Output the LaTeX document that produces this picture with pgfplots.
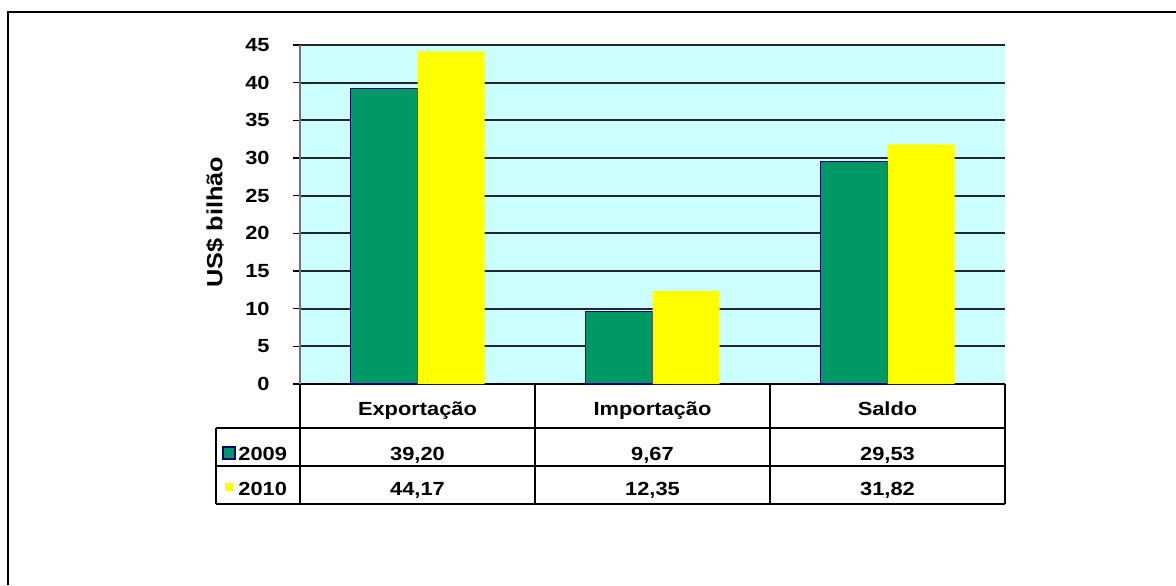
\documentclass[border=0pt]{standalone}
\usepackage{pgfplots}
\pgfplotsset{compat=1.18}
\usepackage{fontspec}
\setmainfont{Liberation Sans}[FakeStretch=1.15]
\definecolor{bg}{RGB}{204,255,255}
\definecolor{barg}{RGB}{0,153,102}
\definecolor{navyb}{RGB}{0,0,128}
\definecolor{bary}{RGB}{255,255,0}
\newcommand\cf{\bfseries\fontsize{9.5pt}{11pt}\selectfont}
\begin{document}
\begin{tikzpicture}[font=\cf]
\useasboundingbox (0,0) rectangle (588pt,292.5pt);
\draw[line width=1pt] (3.75pt,0) -- (3.75pt,286.25pt) -- (588pt,286.25pt);
\begin{axis}[
  at={(150pt,100.5pt)}, anchor=south west,
  scale only axis, width=352.5pt, height=169.5pt,
  xmin=-0.5, xmax=2.5, ymin=0, ymax=45,
  enlargelimits=false,
  axis x line*=bottom, axis y line*=left,
  x axis line style={black, line width=0.8pt},
  y axis line style={black!55, line width=0.8pt},
  axis background/.style={fill=bg},
  xtick={0,1,2},
  xticklabels={Exportação, Importação, Saldo},
  major x tick style={draw=none},
  xticklabel style={anchor=base, yshift=-15.75pt, font=\cf},
  ytick={0,5,...,45},
  ytick align=outside,
  major tick length=3.5pt,
  y tick style={black, line width=0.8pt},
  yticklabel style={anchor=east, inner sep=0pt, xshift=-11.5pt, font=\cf},
  /pgf/number format/assume math mode=true,
  ymajorgrids,
  y grid style={black!85, line width=0.9pt},
  ylabel={US\$ bilhão},
  ylabel style={at={(axis description cs:-0.1206,0.478)}, anchor=center,
    font=\bfseries\fontsize{11pt}{13pt}\selectfont},
]
\addplot[ybar, bar width=33.5pt, bar shift=-16.75pt, fill=barg, draw=navyb, line width=0.6pt]
  coordinates {(0,39.20) (1,9.67) (2,29.53)};
\addplot[ybar, bar width=33.5pt, bar shift=16.75pt, fill=bary, draw=none]
  coordinates {(0,44.17) (1,12.35) (2,31.82)};
\end{axis}
% data table grid
\begin{scope}[line width=0.75pt]
\draw (150pt,100.5pt) -- (150pt,40.5pt);
\draw (267.5pt,100.5pt) -- (267.5pt,40.5pt);
\draw (385pt,100.5pt) -- (385pt,40.5pt);
\draw (502.5pt,100.5pt) -- (502.5pt,40.5pt);
\draw (108pt,78.5pt) -- (502.5pt,78.5pt);
\draw (108pt,59.5pt) -- (502.5pt,59.5pt);
\draw (108pt,40.5pt) -- (502.5pt,40.5pt);
\draw (108pt,78.5pt) -- (108pt,40.5pt);
\end{scope}
% legend keys
\filldraw[fill=barg, draw=navyb, line width=0.8pt] (111.5pt,63pt) rectangle (117.5pt,69pt);
\fill[bary] (112.5pt,47pt) rectangle (116.5pt,51pt);
\node[anchor=base west, inner sep=0pt] at (119pt,62.5pt) {2009};
\node[anchor=base west, inner sep=0pt] at (119pt,45pt) {2010};
% values
\node[anchor=base, inner sep=0pt] at (208.75pt,62.5pt) {39,20};
\node[anchor=base, inner sep=0pt] at (326.25pt,62.5pt) {9,67};
\node[anchor=base, inner sep=0pt] at (443.75pt,62.5pt) {29,53};
\node[anchor=base, inner sep=0pt] at (208.75pt,45pt) {44,17};
\node[anchor=base, inner sep=0pt] at (326.25pt,45pt) {12,35};
\node[anchor=base, inner sep=0pt] at (443.75pt,45pt) {31,82};
\end{tikzpicture}
\end{document}
